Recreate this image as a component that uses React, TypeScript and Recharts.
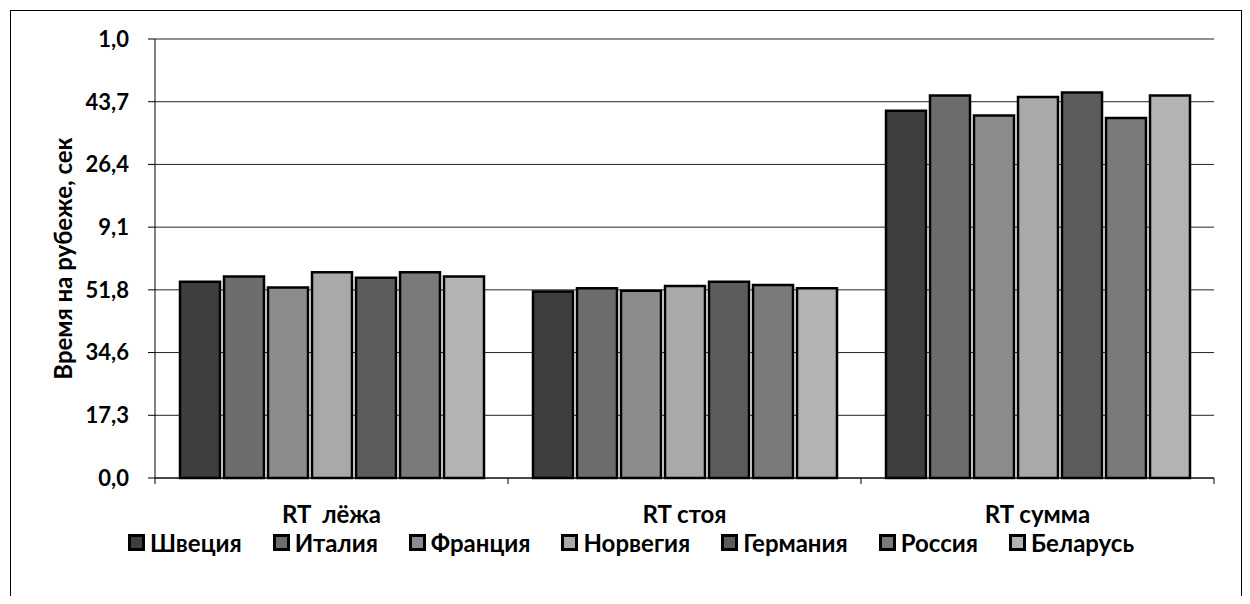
import React from "react";
import { BarChart, Bar, XAxis, YAxis, CartesianGrid, Legend } from "recharts";

const FONT = "Lato, 'Open Sans', sans-serif";

const categories = ["RT  лёжа", "RT стоя", "RT сумма"];
const countries = ["Швеция", "Италия", "Франция", "Норвегия", "Германия", "Россия", "Беларусь"];

// seconds at the shooting range, per category
const sweden = [54.1, 51.4, 101.2];
const italy = [55.5, 52.3, 105.4];
const france = [52.5, 51.6, 99.9];
const norway = [56.7, 52.9, 105.0];
const germany = [55.2, 54.1, 106.2];
const russia = [56.7, 53.2, 99.2];
const belarus = [55.5, 52.3, 105.4];

const yTicks = [0, 17.28, 34.56, 51.84, 69.12, 86.4, 103.68, 120.96];
const yTickLabels = ["0,0", "17,3", "34,6", "51,8", "9,1", "26,4", "43,7", "1,0"];

const series = [sweden, italy, france, norway, germany, russia, belarus];
const fills = ["#3e3e3e", "#6c6c6c", "#8c8c8c", "#a9a9a9", "#5c5c5c", "#7a7a7a", "#b3b3b3"];

const data = categories.map((name, i) => {
  const row: any = { name };
  series.forEach((s, k) => {
    row["s" + k] = s[i];
  });
  return row;
});

const CHART_W = 1230;
const CHART_H = 598;
const MARGIN = { top: 28, right: 27, left: 0, bottom: 52 };
const Y_W = 144;
const BAND = (CHART_W - Y_W - MARGIN.right) / categories.length;

const CategoryTick = (props: any) => {
  const { x, y, payload, index } = props;
  const axisY = y - 8;
  return (
    <g>
      <line x1={x - BAND / 2} x2={x - BAND / 2} y1={axisY} y2={axisY + 6} stroke="#000" />
      {index === categories.length - 1 && (
        <line x1={x + BAND / 2} x2={x + BAND / 2} y1={axisY} y2={axisY + 6} stroke="#000" />
      )}
      <text
        x={x}
        y={axisY + 35}
        textAnchor="middle"
        dominantBaseline="central"
        fontFamily={FONT}
        fontWeight={700}
        fontSize={24}
        fill="#000"
        style={{ whiteSpace: "pre" }}>
        {payload.value}
      </text>
    </g>
  );
};

const YLabel = (props: any) => {
  const { viewBox } = props;
  const cx = viewBox.x + 51;
  const cy = viewBox.y + viewBox.height / 2;
  return (
    <text
      x={cx}
      y={cy}
      transform={`rotate(-90, ${cx}, ${cy})`}
      textAnchor="middle"
      dominantBaseline="central"
      fontFamily={FONT}
      fontWeight={700}
      fontSize={24}
      fill="#000">
      Время на рубеже, сек
    </text>
  );
};

const LegendContent = () => (
  <div
    style={{
      height: 30,
      display: "flex",
      justifyContent: "center",
      alignItems: "center",
      fontFamily: FONT,
      fontWeight: 700,
      fontSize: 24,
      color: "#000",
      paddingLeft: 10,
    }}>
    {countries.map((c, i) => (
      <span key={c} style={{ display: "flex", alignItems: "center", marginRight: i < countries.length - 1 ? 31 : 0 }}>
        <svg width={17} height={17} style={{ marginRight: 5 }}>
          <rect x={1.5} y={1.5} width={14} height={14} fill={fills[i]} stroke="#000" strokeWidth={3} />
        </svg>
        {c}
      </span>
    ))}
  </div>
);

export default function App() {
  return (
    <div style={{ height: 596, marginBottom: -8, overflow: "hidden" }}>
      <div
        style={{
          marginLeft: 2,
          marginTop: 2,
          width: CHART_W,
          height: 600,
          border: "1px solid #000",
          background: "#fff",
        }}>
        <BarChart
          width={CHART_W}
          height={CHART_H}
          data={data}
          margin={MARGIN}
          barSize={40}
          barGap={4}>
          <CartesianGrid vertical={false} stroke="#222" strokeWidth={1} />
          <XAxis
            dataKey="name"
            height={49}
            tickSize={6}
            tickMargin={2}
            tickLine={false}
            axisLine={{ stroke: "#000" }}
            tick={<CategoryTick />}
            interval={0}
          />
          <YAxis
            width={Y_W}
            domain={[0, yTicks[yTicks.length - 1]]}
            ticks={yTicks}
            interval={0}
            tickSize={7}
            tickMargin={19}
            tickLine={{ stroke: "#000" }}
            axisLine={{ stroke: "#000" }}
            tickFormatter={(v: number) => yTickLabels[yTicks.indexOf(v)] ?? ""}
            tick={{ fontFamily: FONT, fontWeight: 700, fontSize: 22, fill: "#000" }}
            label={(p: any) => <YLabel {...p} />}
          />
          <Legend
            verticalAlign="bottom"
            content={<LegendContent />}
            wrapperStyle={{ left: 0, width: CHART_W }}
          />
          {countries.map((c, k) => (
            <Bar
              key={c}
              dataKey={"s" + k}
              name={c}
              fill={fills[k]}
              stroke="#000"
              strokeWidth={2.5}
              isAnimationActive={false}
            />
          ))}
        </BarChart>
      </div>
    </div>
  );
}
